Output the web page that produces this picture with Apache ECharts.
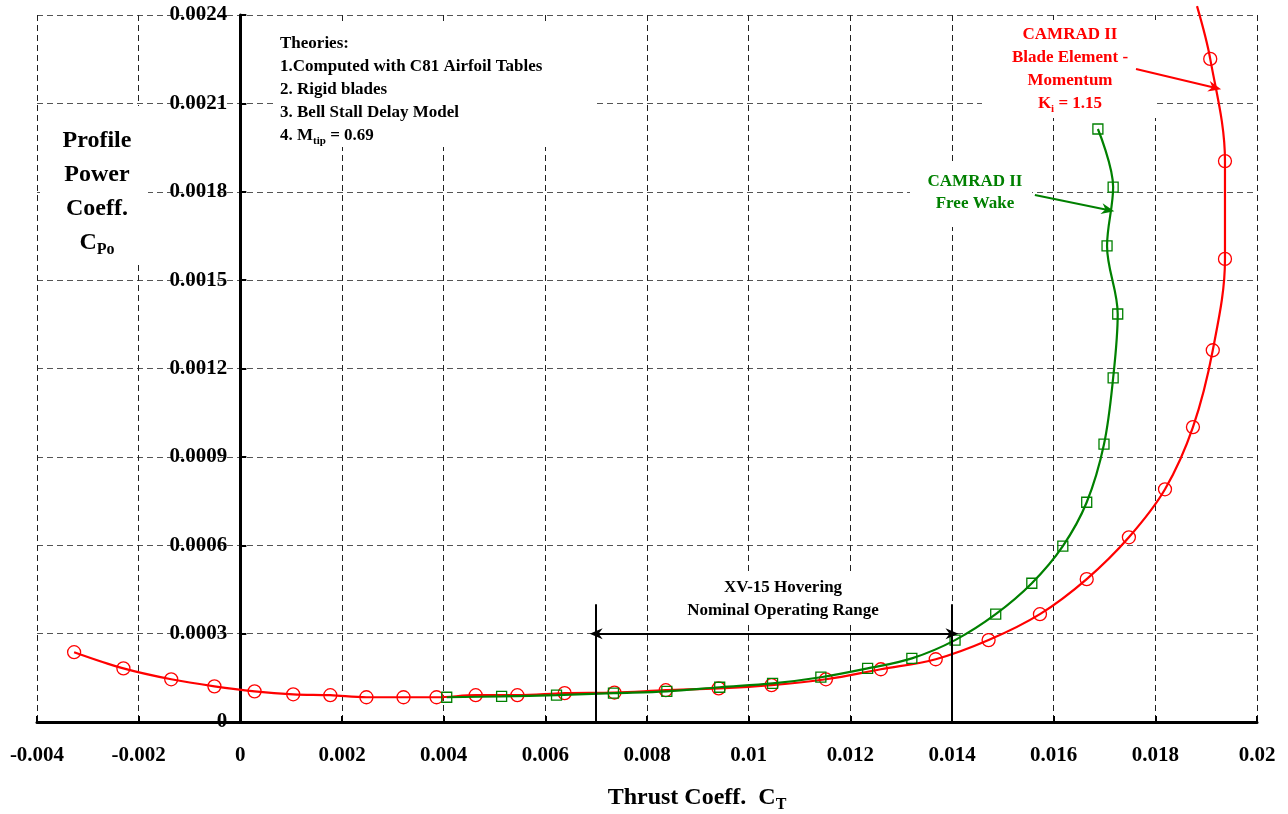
<!DOCTYPE html>
<html>
<head>
<meta charset="utf-8">
<script src="https://cdn.jsdelivr.net/npm/echarts@6/dist/echarts.min.js"></script>
<style>
  html, body { margin: 0; background: #fff; }
  #chart { width: 1288px; height: 814px; }
</style>
</head>
<body>
<div id="chart"></div>
<script>
// CAMRAD II Blade Element - Momentum (red circles)
const bemCT = [-0.00327, -0.00230, -0.00136, -0.00051, 0.00028, 0.00104, 0.00177, 0.00248, 0.00321, 0.00386,
  0.00463, 0.00545, 0.00638, 0.00736, 0.00837, 0.00941, 0.01045, 0.01152, 0.01260, 0.01368,
  0.01472, 0.01573, 0.01665, 0.01748, 0.01819, 0.01874, 0.01913, 0.01937, 0.01937, 0.01908]
const bemCP = [0.000237, 0.000182, 0.000145, 0.000121, 0.000104, 0.000094, 0.000091, 0.000084, 0.000084, 0.000084,
  0.000091, 0.000091, 0.000098, 0.000100, 0.000108, 0.000114, 0.000125, 0.000145, 0.000179, 0.000213,
  0.000278, 0.000366, 0.000485, 0.000627, 0.000790, 0.001001, 0.001262, 0.001572, 0.001904, 0.002251]
// curve keeps going past the last circle, out of the top of the plot
const bemTailCT = 0.01882
const bemTailCP = 0.00243

// CAMRAD II Free Wake (green squares)
const fwCT = [0.00406, 0.00514, 0.00622, 0.00734, 0.00839, 0.00943, 0.01047, 0.01142, 0.01234, 0.01321,
  0.01406, 0.01486, 0.01557, 0.01618, 0.01665, 0.01699, 0.01717, 0.01726, 0.01705, 0.01717, 0.01687]
const fwCP = [0.000084, 0.000087, 0.000091, 0.000098, 0.000104, 0.000118, 0.000131, 0.000152, 0.000182, 0.000216,
  0.000278, 0.000366, 0.000471, 0.000597, 0.000746, 0.000943, 0.001168, 0.001385, 0.001616, 0.001816, 0.002013]

// XV-15 nominal hover range
const rangeCT = [0.007, 0.014]
const rangeTopCP = 0.0004
const rangeArrowCP = 0.0003

// annotation arrows [fromCT, fromCP, toCT, toCP]
const bemArrow = [0.01762, 0.002217, 0.01917, 0.002153]
const fwArrow = [0.01563, 0.001789, 0.017067, 0.001738]

const xMin = -0.004, xMax = 0.02, xStep = 0.002
const yMin = 0, yMax = 0.0024, yStep = 0.0003

const RED = '#ff0000'
const GREEN = '#008000'
const FONT = '"Liberation Serif", "Times New Roman", serif'
const ARROW = 'path://M6,0 L12,13 L6,9 L0,13 Z'

const W = 1288
const GRID = { left: 37, right: 31, top: 15, bottom: 92 }
// y axis sits on CT = 0, so shift it into the plot
const yOffset = -(0 - xMin) / (xMax - xMin) * (W - GRID.left - GRID.right)

const fmt = v => String(+v.toFixed(6))

const chart = echarts.init(document.getElementById('chart'))

const bemData = bemCT.map((x, i) => [x, bemCP[i]])
bemData.push({ value: [bemTailCT, bemTailCP], symbol: 'none' })
const fwData = fwCT.map((x, i) => [x, fwCP[i]])

function txt (x, y, text, size, color, align, rich) {
  return {
    type: 'text',
    x: x,
    y: y,
    z: 1,
    style: {
      text: text,
      fill: color,
      fontFamily: FONT,
      fontWeight: 'bold',
      fontSize: size,
      lineHeight: Math.round(size * 1.25),
      textAlign: align,
      align: align,
      textVerticalAlign: 'middle',
      verticalAlign: 'middle',
      rich: rich || {}
    }
  }
}
function subRich (size, color) {
  return {
    s: {
      fill: color,
      fontFamily: FONT,
      fontWeight: 'bold',
      fontSize: size,
      lineHeight: size,
      verticalAlign: 'bottom'
    }
  }
}
function box (x, y, w, h) {
  return { type: 'rect', z: 1, shape: { x: x, y: y, width: w, height: h }, style: { fill: '#fff' } }
}

const options = {
  animation: false,
  backgroundColor: '#fff',
  grid: Object.assign({ containLabel: false, outerBoundsMode: 'none' }, GRID),
  xAxis: {
    type: 'value',
    min: xMin,
    max: xMax,
    interval: xStep,
    axisLine: { onZero: false, lineStyle: { color: '#000', width: 3 } },
    axisTick: { inside: true, length: 6, lineStyle: { color: '#000', width: 2 } },
    axisLabel: { margin: 23, color: '#000', fontFamily: FONT, fontWeight: 'bold', fontSize: 21, formatter: fmt },
    splitLine: { show: true, lineStyle: { color: '#222', width: 1, type: [6, 4] } }
  },
  yAxis: {
    type: 'value',
    position: 'left',
    offset: yOffset,
    min: yMin,
    max: yMax,
    interval: yStep,
    axisLine: { show: true, onZero: false, lineStyle: { color: '#000', width: 3 } },
    axisTick: { show: true, inside: true, length: 6, lineStyle: { color: '#000', width: 2 } },
    axisLabel: { margin: 13, color: '#000', fontFamily: FONT, fontWeight: 'bold', fontSize: 21, formatter: fmt },
    splitLine: { show: true, lineStyle: { color: '#555', width: 1, type: [6, 4] } }
  },
  graphic: [
    box(276, 25, 321, 122),
    txt(280, 44, 'Theories:', 17, '#000', 'left'),
    txt(280, 67, '1.Computed with C81 Airfoil Tables', 17, '#000', 'left'),
    txt(280, 90, '2. Rigid blades', 17, '#000', 'left'),
    txt(280, 113, '3. Bell Stall Delay Model', 17, '#000', 'left'),
    txt(280, 136, '4. M{s|tip} = 0.69', 17, '#000', 'left', subRich(11, '#000')),

    box(40, 106, 108, 159),
    txt(97, 141, 'Profile', 24, '#000', 'center'),
    txt(97, 175, 'Power', 24, '#000', 'center'),
    txt(97, 209, 'Coeff.', 24, '#000', 'center'),
    txt(97, 243, 'C{s|Po}', 24, '#000', 'center', subRich(16, '#000')),

    txt(697, 798, 'Thrust Coeff.  C{s|T}', 24, '#000', 'center', subRich(16, '#000')),

    box(982, 20, 175, 98),
    txt(1070, 35, 'CAMRAD II', 17, RED, 'center'),
    txt(1070, 58, 'Blade Element -', 17, RED, 'center'),
    txt(1070, 81, 'Momentum', 17, RED, 'center'),
    txt(1070, 104, 'K{s|i} = 1.15', 17, RED, 'center', subRich(11, RED)),

    box(910, 163, 122, 64),
    txt(975, 182, 'CAMRAD II', 17, GREEN, 'center'),
    txt(975, 204, 'Free Wake', 17, GREEN, 'center'),

    box(682, 574, 204, 50),
    txt(783, 588, 'XV-15 Hovering', 17, '#000', 'center'),
    txt(783, 611, 'Nominal Operating Range', 17, '#000', 'center')
  ],
  series: [
    {
      name: 'Blade Element - Momentum',
      type: 'line',
      data: bemData,
      smooth: 0.35,
      clip: false,
      symbol: 'circle',
      symbolSize: 13,
      itemStyle: { color: 'rgba(0,0,0,0)', borderColor: RED, borderWidth: 1.3 },
      lineStyle: { color: RED, width: 2.2 },
      z: 3
    },
    {
      name: 'Free Wake',
      type: 'line',
      data: fwData,
      smooth: 0.35,
      symbol: 'rect',
      symbolSize: 10,
      itemStyle: { color: 'rgba(0,0,0,0)', borderColor: GREEN, borderWidth: 1.3 },
      lineStyle: { color: GREEN, width: 2.2 },
      z: 4
    },
    {
      name: 'annotations',
      type: 'line',
      data: [],
      markLine: {
        silent: true,
        animation: false,
        symbol: 'none',
        symbolSize: [11, 13],
        label: { show: false },
        lineStyle: { color: '#000', width: 2, type: 'solid' },
        data: [
          [{ coord: [rangeCT[0], 0] }, { coord: [rangeCT[0], rangeTopCP] }],
          [{ coord: [rangeCT[1], 0] }, { coord: [rangeCT[1], rangeTopCP] }],
          [
            { coord: [rangeCT[0], rangeArrowCP], symbol: ARROW, lineStyle: { width: 2 } },
            { coord: [rangeCT[1], rangeArrowCP], symbol: ARROW }
          ],
          [
            { coord: [bemArrow[0], bemArrow[1]], symbol: 'none', lineStyle: { color: RED, width: 2 } },
            { coord: [bemArrow[2], bemArrow[3]], symbol: ARROW }
          ],
          [
            { coord: [fwArrow[0], fwArrow[1]], symbol: 'none', lineStyle: { color: GREEN, width: 2 } },
            { coord: [fwArrow[2], fwArrow[3]], symbol: ARROW }
          ]
        ]
      },
      z: 5
    }
  ]
}
chart.setOption(options)
</script>
</body>
</html>
